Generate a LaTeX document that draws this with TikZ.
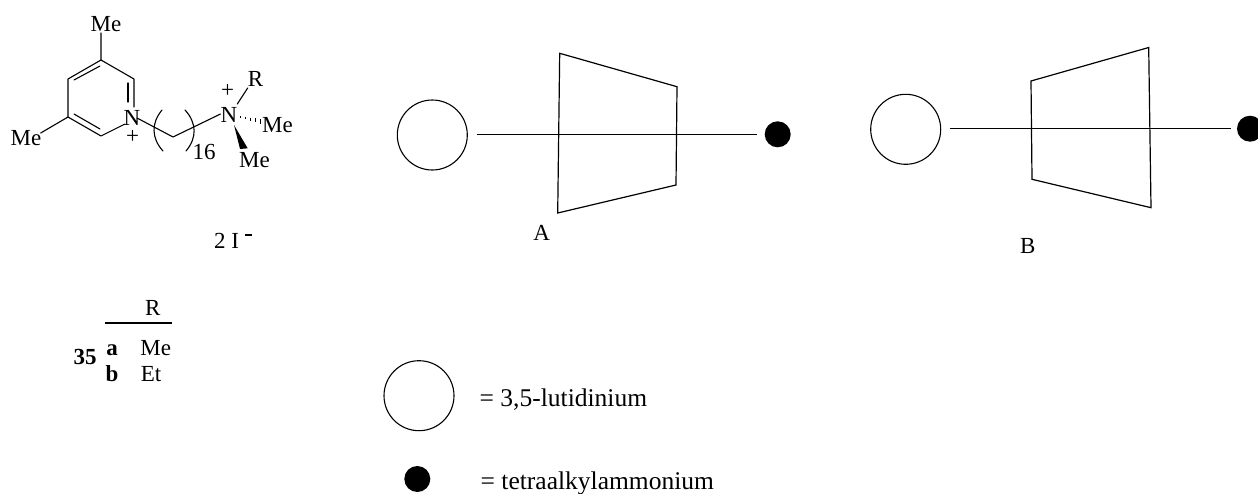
\documentclass[tikz,border=0pt]{standalone}
\usepackage{fontspec}
\setmainfont{Liberation Serif}
\tikzset{
  lab/.style={inner sep=0pt,anchor=base,font=\fontsize{23}{25}\selectfont},
  blab/.style={inner sep=0pt,anchor=base,font=\fontsize{23}{25}\selectfont\bfseries},
  leg/.style={inner sep=0pt,anchor=base west,font=\fontsize{25.5}{28}\selectfont},
  bondl/.style={line width=1.1pt,line cap=round,line join=round},
  shapeline/.style={line width=1.2pt,line join=miter},
  openc/.style={circle,draw,line width=1.1pt,fill=white,inner sep=0pt,minimum size=70pt},
  dot/.style={circle,fill=black,inner sep=0pt,minimum size=26pt}
}
\begin{document}
\begin{tikzpicture}[x=1pt,y=-1pt]
\useasboundingbox (0,0) rectangle (1258,493);
% chem labels
\node[lab] (Me1) at (106,31) {Me};
\node[lab] (Me2) at (26,145) {Me};
\node[lab] (N1) at (132,125) {N};
\node[lab] (P1) at (132.7,143.5) {+};
\node[lab] (N2) at (229,122.5) {N};
\node[lab] (P2) at (227.7,97) {+};
\node[lab] (R1) at (255.5,86) {R};
\node[lab] (Me3) at (277.5,132) {Me};
\node[lab] (Me4) at (254.5,167) {Me};
\node[lab] (n16) at (204,159.5) {16};
\coordinate (a) at (101,60);
\coordinate (b) at (134,79);
\coordinate (c) at (134,107);
\coordinate (d) at (125,124);
\coordinate (e) at (101,136);
\coordinate (f) at (68,117);
\coordinate (g) at (68,79);
\coordinate (h) at (173,137);
\coordinate (i) at (137,118);
\coordinate (j) at (220.5,114);
\coordinate (mt) at (101,33);
\coordinate (ml) at (40.7,133);
\draw[bondl] (mt) -- (a) -- (b) -- (c);
\draw[bondl] (128,83) -- (128,102);
\draw[bondl] (d) -- (e) -- (f) -- (g) -- (a);
\draw[bondl] (74,114) -- (100,129);
\draw[bondl] (74,80) -- (100,66);
\draw[bondl] (f) -- (ml);
\draw[bondl] (i) -- (h) -- (j);
\draw[bondl] (237.3,104) -- (247.7,88);
% Parens
\draw[bondl] (162,110) .. controls (151.2,123) and (151.2,138) .. (163,151);
\draw[bondl] (185,110) .. controls (197,123) and (197,138) .. (186,151);
% wedge and hash
\fill (234,125) -- (247.7,148.3) -- (240,149) -- cycle;
\foreach \t/\h in {0/0.8,1/1.2,2/1.6,3/2.0,4/2.5}{
  \draw[line width=1.2pt] ({240.7+\t*5},{116.7+\t*1.25-\h}) -- ({240.7+\t*5},{116.7+\t*1.25+\h});
}
% Table
\node[lab] (R2) at (152.7,315) {R};
\coordinate (t1) at (105,323);
\coordinate (t2) at (172,323);
\draw[line width=1.1pt] (t1) -- (t2);
\node[blab] (n35) at (85,364) {35};
\node[blab] (la) at (112,355) {a};
\node[blab] (lb) at (112,381) {b};
\node[lab] (MeT) at (155.7,355) {Me};
\node[lab] (EtT) at (151,381) {Et};
\node[lab,anchor=base west] (ions) at (214,248) {2 I};
\fill (245,234.3) rectangle (251.7,236.3);
% A
\node[openc] (C1) at (432.3,135) {};
\node[dot] (D1) at (777.7,134.3) {};
\coordinate (l1) at (476.5,134.3);
\coordinate (l2) at (757,134.3);
\draw[shapeline] (l1) -- (l2);
\draw[shapeline] (559.7,53.3) -- (677,86.7) -- (676,185) -- (557.7,213) -- cycle;
\node[lab] (A) at (541.7,240.5) {A};
% B
\node[openc] (C2) at (905.7,129.3) {};
\node[dot] (D2) at (1250,128.7) {};
\coordinate (l3) at (950,128.7);
\coordinate (l4) at (1230.7,128.7);
\draw[shapeline] (l3) -- (l4);
\draw[shapeline] (1031,81) -- (1148.7,47.5) -- (1151,207.7) -- (1032,179.3) -- cycle;
\node[lab] (B) at (1027.7,253.5) {B};
% Legend
\node[openc] (C3) at (419,395.7) {};
\node[dot] (D3) at (417.3,479) {};
\node[leg] (T1) at (479.5,406.7) {= 3,5-lutidinium};
\node[leg] (T2) at (480.5,489) {= tetraalkylammonium};
\end{tikzpicture}
\end{document}
